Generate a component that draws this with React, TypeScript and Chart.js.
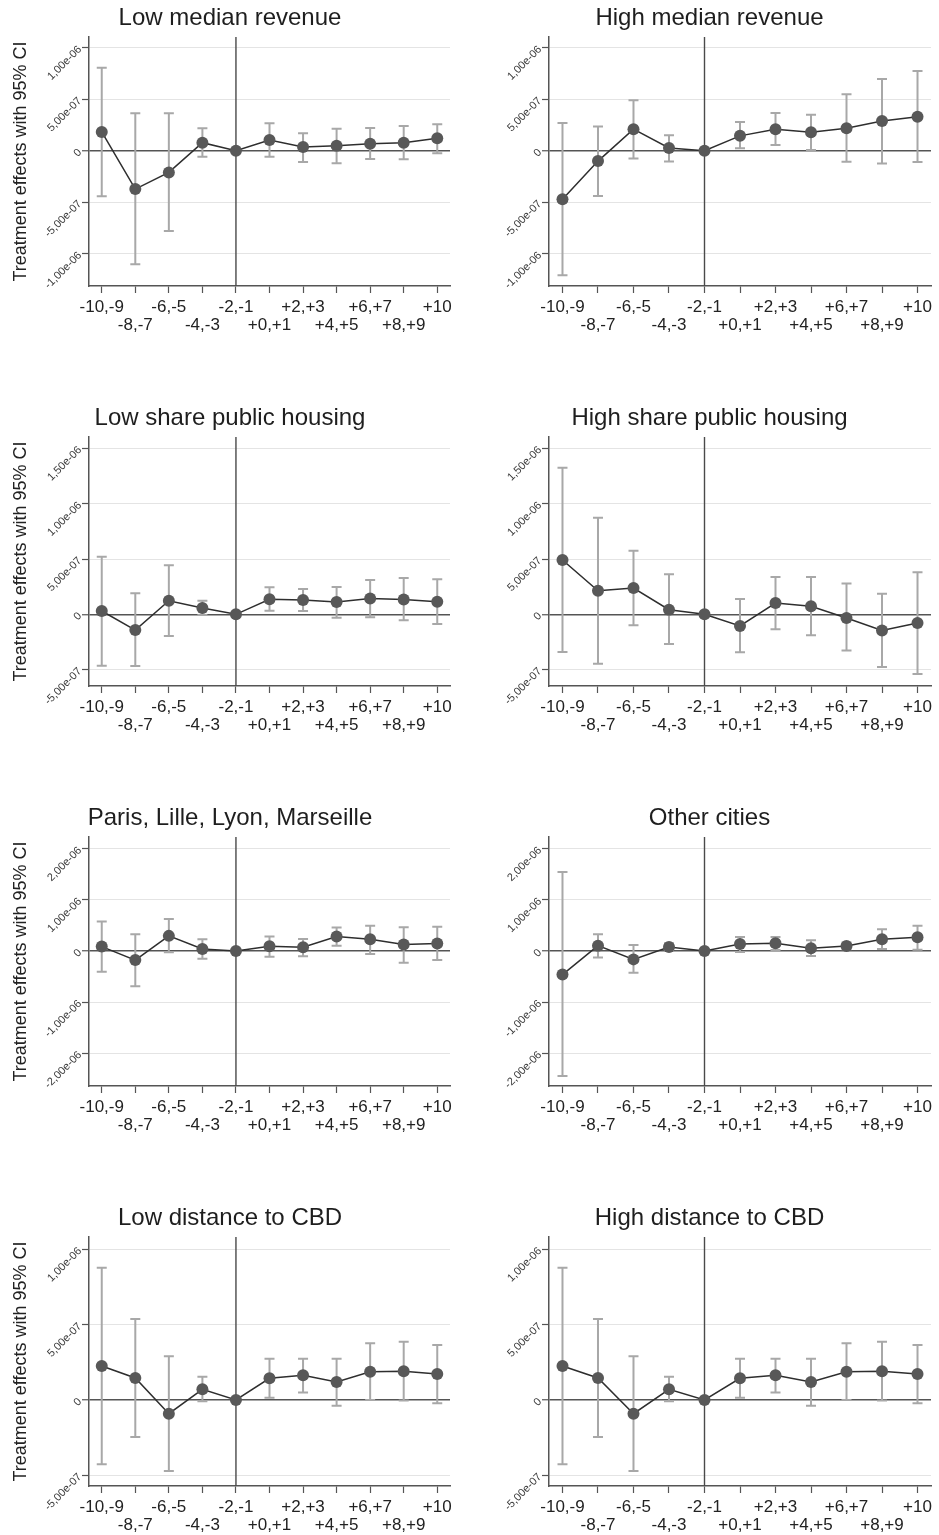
import React, { useEffect, useRef } from 'react';
import { Chart, registerables } from 'chart.js';

Chart.register(...registerables);

// ---------- categories & labels ----------
const periods = ['-10,-9', '-8,-7', '-6,-5', '-4,-3', '-2,-1', '+0,+1', '+2,+3', '+4,+5', '+6,+7', '+8,+9', '+10'];
const referencePeriod = '-2,-1';
const yAxisTitle = 'Treatment effects with 95% CI';

// ---------- y ticks per row ----------
const ticksRow1 = [-1e-6, -5e-7, 0, 5e-7, 1e-6];
const tickLabelsRow1 = ['-1,00e-06', '-5,00e-07', '0', '5,00e-07', '1,00e-06'];
const rangeRow1 = [-1.314e-6, 1.104e-6];

const ticksRow2 = [-5e-7, 0, 5e-7, 1e-6, 1.5e-6];
const tickLabelsRow2 = ['-5,00e-07', '0', '5,00e-07', '1,00e-06', '1,50e-06'];
const rangeRow2 = [-6.48e-7, 1.603e-6];

const ticksRow3 = [-2e-6, -1e-6, 0, 1e-6, 2e-6];
const tickLabelsRow3 = ['-2,00e-06', '-1,00e-06', '0', '1,00e-06', '2,00e-06'];
const rangeRow3 = [-2.642e-6, 2.231e-6];

const ticksRow4 = [-5e-7, 0, 5e-7, 1e-6];
const tickLabelsRow4 = ['-5,00e-07', '0', '5,00e-07', '1,00e-06'];
const rangeRow4 = [-5.71e-7, 1.082e-6];

// ---------- series: point estimates, lower and upper 95% CI ----------
const lowRevEst = [1.82e-7, -3.73e-7, -2.11e-7, 7.8e-8, 0, 1.04e-7, 3.6e-8, 4.9e-8, 6.8e-8, 7.8e-8, 1.2e-7];
const lowRevLo = [-4.42e-7, -1.104e-6, -7.79e-7, -5.8e-8, null, -5.8e-8, -1.1e-7, -1.23e-7, -8.1e-8, -8.4e-8, -2.6e-8];
const lowRevHi = [8.05e-7, 3.64e-7, 3.64e-7, 2.18e-7, null, 2.66e-7, 1.69e-7, 2.14e-7, 2.21e-7, 2.4e-7, 2.56e-7];

const highRevEst = [-4.71e-7, -1.01e-7, 2.09e-7, 2.6e-8, 0, 1.44e-7, 2.09e-7, 1.8e-7, 2.19e-7, 2.88e-7, 3.3e-7];
const highRevLo = [-1.209e-6, -4.41e-7, -7.5e-8, -1.05e-7, null, 2.3e-8, 5.6e-8, 7e-9, -1.08e-7, -1.24e-7, -1.11e-7];
const highRevHi = [2.68e-7, 2.35e-7, 4.9e-7, 1.5e-7, null, 2.78e-7, 3.66e-7, 3.5e-7, 5.49e-7, 6.96e-7, 7.75e-7];

const lowPubEst = [3.0e-8, -1.42e-7, 1.23e-7, 5.7e-8, 0, 1.36e-7, 1.3e-7, 1.11e-7, 1.42e-7, 1.33e-7, 1.14e-7];
const lowPubLo = [-4.64e-7, -4.67e-7, -1.96e-7, -6e-9, null, 3.3e-8, 3e-8, -3e-8, -2.7e-8, -5.4e-8, -8.7e-8];
const lowPubHi = [5.21e-7, 1.9e-7, 4.43e-7, 1.23e-7, null, 2.44e-7, 2.29e-7, 2.47e-7, 3.1e-7, 3.28e-7, 3.16e-7];

const highPubEst = [4.91e-7, 2.13e-7, 2.37e-7, 4.2e-8, 0, -1.05e-7, 1.02e-7, 7.2e-8, -3.3e-8, -1.47e-7, -7.8e-8];
const highPubLo = [-3.41e-7, -4.46e-7, -9.9e-8, -2.69e-7, null, -3.44e-7, -1.35e-7, -1.89e-7, -3.26e-7, -4.76e-7, -5.39e-7];
const highPubHi = [1.326e-6, 8.74e-7, 5.75e-7, 3.62e-7, null, 1.38e-7, 3.38e-7, 3.38e-7, 2.78e-7, 1.86e-7, 3.8e-7];

const bigCitiesEst = [8.6e-8, -1.78e-7, 2.96e-7, 3.9e-8, 0, 9.2e-8, 7.2e-8, 2.83e-7, 2.3e-7, 1.25e-7, 1.45e-7];
const bigCitiesLo = [-4.08e-7, -6.91e-7, -2.6e-8, -1.51e-7, null, -1.12e-7, -1.05e-7, 1.05e-7, -5.9e-8, -2.3e-7, -1.78e-7];
const bigCitiesHi = [5.79e-7, 3.29e-7, 6.25e-7, 2.3e-7, null, 2.83e-7, 2.37e-7, 4.61e-7, 4.93e-7, 4.67e-7, 4.74e-7];

const otherCitiesEst = [-4.61e-7, 1.05e-7, -1.64e-7, 7.9e-8, 0, 1.38e-7, 1.51e-7, 5.3e-8, 9.9e-8, 2.3e-7, 2.7e-7];
const otherCitiesLo = [-2.447e-6, -1.25e-7, -4.28e-7, 7e-9, null, -2e-8, 2e-8, -9.9e-8, 3.3e-8, 3.9e-8, 2.6e-8];
const otherCitiesHi = [1.546e-6, 3.29e-7, 1.18e-7, 1.51e-7, null, 2.76e-7, 2.76e-7, 2.1e-7, 1.64e-7, 4.28e-7, 4.93e-7];

const lowCbdEst = [2.26e-7, 1.46e-7, -9.1e-8, 7.1e-8, 0, 1.44e-7, 1.64e-7, 1.19e-7, 1.88e-7, 1.9e-7, 1.73e-7];
const lowCbdLo = [-4.27e-7, -2.46e-7, -4.71e-7, -9e-9, null, 1.5e-8, 4.9e-8, -3.8e-8, 0, -4e-9, -2.2e-8];
const lowCbdHi = [8.78e-7, 5.38e-7, 2.9e-7, 1.55e-7, null, 2.74e-7, 2.74e-7, 2.74e-7, 3.76e-7, 3.87e-7, 3.65e-7];

const highCbdEst = [2.26e-7, 1.46e-7, -9.1e-8, 7.1e-8, 0, 1.44e-7, 1.64e-7, 1.19e-7, 1.88e-7, 1.9e-7, 1.73e-7];
const highCbdLo = [-4.27e-7, -2.46e-7, -4.71e-7, -9e-9, null, 1.5e-8, 4.9e-8, -3.8e-8, 0, -4e-9, -2.2e-8];
const highCbdHi = [8.78e-7, 5.38e-7, 2.9e-7, 1.55e-7, null, 2.74e-7, 2.74e-7, 2.74e-7, 3.76e-7, 3.87e-7, 3.65e-7];

// ---------- styling ----------
const FONT = '"Liberation Sans", Arial, Helvetica, sans-serif';
const DARK = '#555555';

type PanelProps = {
  title: string;
  est: number[];
  lo: (number | null)[];
  hi: (number | null)[];
  yTicks: number[];
  yTickLabels: string[];
  yRange: number[];
  col: number;
  row: number;
};

function Panel({ title, est, lo, hi, yTicks, yTickLabels, yRange, col, row }: PanelProps) {
  const ref = useRef<HTMLCanvasElement | null>(null);
  const left = col === 0 ? 0 : 470;
  const width = col === 0 ? 470 : 469;
  const top = row * 400;
  const height = row === 3 ? 335 : 340;
  const padLeft = col === 0 ? 10 : 18;
  const axisWidth = col === 0 ? 79 : 61;
  const padRight = col === 0 ? 20 : 8;
  const plotTop = 37;
  const plotBottom = 286;

  useEffect(() => {
    if (!ref.current) return;
    const refIndex = periods.indexOf(referencePeriod);
    const ciPlugin = {
      id: 'ciBars',
      beforeDatasetsDraw(chart: any) {
        const { ctx, chartArea, scales } = chart;
        const xs = scales.x;
        const ys = scales.y;
        ctx.save();
        // vertical reference line
        const xr = xs.getPixelForValue(refIndex);
        ctx.strokeStyle = '#4a4a4a';
        ctx.lineWidth = 1.4;
        ctx.beginPath();
        ctx.moveTo(xr, chartArea.top);
        ctx.lineTo(xr, chartArea.bottom);
        ctx.stroke();
        // confidence intervals
        ctx.strokeStyle = '#a8a8a8';
        ctx.lineWidth = 2;
        for (let i = 0; i < periods.length; i++) {
          const l = lo[i];
          const h = hi[i];
          if (l == null || h == null) continue;
          const px = xs.getPixelForValue(i);
          const pl = ys.getPixelForValue(l);
          const ph = ys.getPixelForValue(h);
          ctx.beginPath();
          ctx.moveTo(px, pl);
          ctx.lineTo(px, ph);
          ctx.moveTo(px - 5, pl);
          ctx.lineTo(px + 5, pl);
          ctx.moveTo(px - 5, ph);
          ctx.lineTo(px + 5, ph);
          ctx.stroke();
        }
        ctx.restore();
      },
    };

    const chart = new Chart(ref.current, {
      type: 'line',
      data: {
        datasets: [
          {
            data: est.map((v, i) => ({ x: i, y: v })),
            borderColor: '#2e2e2e',
            borderWidth: 1.5,
            pointRadius: 6,
            pointBackgroundColor: '#585858',
            pointBorderColor: '#585858',
            pointBorderWidth: 0,
            tension: 0,
            fill: false,
          },
        ],
      },
      options: {
        responsive: false,
        animation: false,
        events: [],
        layout: { padding: { left: padLeft, right: padRight, top: 0, bottom: 0 } },
        plugins: {
          legend: { display: false },
          tooltip: { enabled: false },
          title: {
            display: true,
            text: title,
            color: '#1e1e1e',
            font: { family: FONT, size: 24, weight: 'normal', lineHeight: 1.2 },
            padding: { top: 3.5, bottom: plotTop - 3.5 - 24 * 1.2 },
          },
        },
        scales: {
          x: {
            type: 'linear',
            min: -0.38,
            max: 10.38,
            bounds: 'data',
            afterBuildTicks: (s: any) => {
              s.ticks = periods.map((_, i) => ({ value: i }));
            },
            afterFit: (s: any) => {
              s.height = height - plotBottom;
            },
            ticks: {
              autoSkip: false,
              maxRotation: 0,
              minRotation: 0,
              padding: 5,
              color: '#222',
              font: { family: FONT, size: 17, lineHeight: 18 / 17 },
              callback: (value: any) => {
                const i = Math.round(Number(value));
                const lab = periods[i] ?? '';
                return i % 2 === 0 ? lab : ['', lab];
              },
            },
            grid: {
              display: true,
              drawOnChartArea: false,
              drawTicks: true,
              tickLength: 7,
              tickColor: DARK,
              tickWidth: 1.2,
            },
            border: { display: true, color: DARK, width: 1.5 },
          },
          y: {
            type: 'linear',
            min: yRange[0],
            max: yRange[1],
            bounds: 'data',
            afterBuildTicks: (s: any) => {
              s.ticks = yTicks.map((v) => ({ value: v }));
            },
            afterFit: (s: any) => {
              s.width = axisWidth;
            },
            title: {
              display: col === 0,
              text: yAxisTitle,
              color: '#222',
              font: { family: FONT, size: 18, lineHeight: 1.2 },
              padding: { top: 0, bottom: 0 },
            },
            ticks: {
              autoSkip: false,
              minRotation: 45,
              maxRotation: 45,
              padding: 2,
              color: '#3a3a3a',
              font: { family: FONT, size: 11 },
              callback: (_v: any, index: number) => yTickLabels[index] ?? '',
            },
            grid: {
              display: true,
              drawOnChartArea: true,
              drawTicks: true,
              tickLength: 7,
              tickColor: DARK,
              tickWidth: 1.2,
              color: (c: any) => (c.tick && c.tick.value === 0 ? DARK : '#e4e4e4'),
              lineWidth: (c: any) => (c.tick && c.tick.value === 0 ? 1.5 : 1),
            },
            border: { display: true, color: DARK, width: 1.5 },
          },
        },
      },
      plugins: [ciPlugin],
    } as any);
    return () => chart.destroy();
  }, []);

  return (
    <canvas
      ref={ref}
      width={width}
      height={height}
      style={{ position: 'absolute', left, top, width, height, display: 'block' }}
    />
  );
}

const panels: PanelProps[] = [
  { title: 'Low median revenue', est: lowRevEst, lo: lowRevLo, hi: lowRevHi, yTicks: ticksRow1, yTickLabels: tickLabelsRow1, yRange: rangeRow1, col: 0, row: 0 },
  { title: 'High median revenue', est: highRevEst, lo: highRevLo, hi: highRevHi, yTicks: ticksRow1, yTickLabels: tickLabelsRow1, yRange: rangeRow1, col: 1, row: 0 },
  { title: 'Low share public housing', est: lowPubEst, lo: lowPubLo, hi: lowPubHi, yTicks: ticksRow2, yTickLabels: tickLabelsRow2, yRange: rangeRow2, col: 0, row: 1 },
  { title: 'High share public housing', est: highPubEst, lo: highPubLo, hi: highPubHi, yTicks: ticksRow2, yTickLabels: tickLabelsRow2, yRange: rangeRow2, col: 1, row: 1 },
  { title: 'Paris, Lille, Lyon, Marseille', est: bigCitiesEst, lo: bigCitiesLo, hi: bigCitiesHi, yTicks: ticksRow3, yTickLabels: tickLabelsRow3, yRange: rangeRow3, col: 0, row: 2 },
  { title: 'Other cities', est: otherCitiesEst, lo: otherCitiesLo, hi: otherCitiesHi, yTicks: ticksRow3, yTickLabels: tickLabelsRow3, yRange: rangeRow3, col: 1, row: 2 },
  { title: 'Low distance to CBD', est: lowCbdEst, lo: lowCbdLo, hi: lowCbdHi, yTicks: ticksRow4, yTickLabels: tickLabelsRow4, yRange: rangeRow4, col: 0, row: 3 },
  { title: 'High distance to CBD', est: highCbdEst, lo: highCbdLo, hi: highCbdHi, yTicks: ticksRow4, yTickLabels: tickLabelsRow4, yRange: rangeRow4, col: 1, row: 3 },
];

export default function App() {
  return (
    <div style={{ position: 'absolute', left: 0, top: 0, width: 939, height: 1535, background: '#ffffff', overflow: 'hidden' }}>
      {panels.map((p) => (
        <Panel key={p.title} {...p} />
      ))}
    </div>
  );
}
